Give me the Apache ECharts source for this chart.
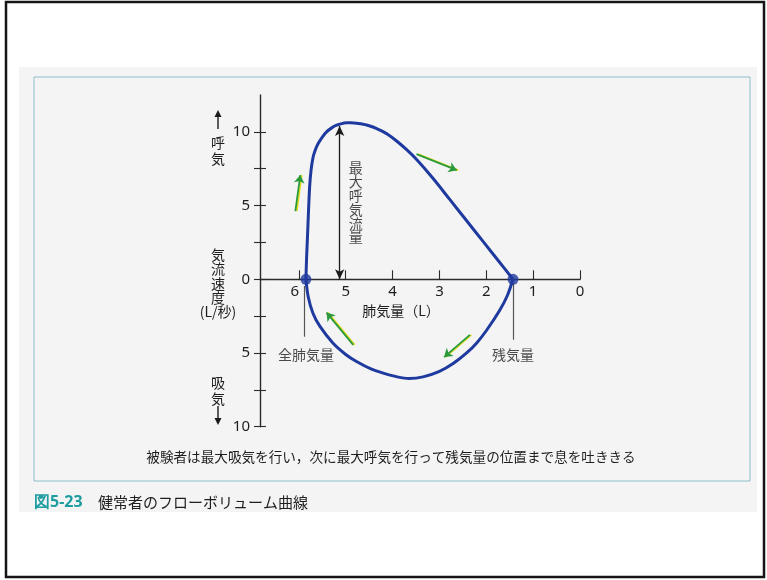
<!DOCTYPE html>
<html>
<head>
<meta charset="utf-8">
<script src="https://cdn.jsdelivr.net/npm/echarts@6/dist/echarts.min.js"></script>
<style>
  html, body { margin: 0; padding: 0; background: #ffffff; }
  #chart { width: 767px; height: 580px; }
</style>
</head>
<body>
<div id="chart"></div>
<script>
// Lung volume (L) ticks on the reversed horizontal axis
const volumeTicks = [0, 1, 2, 3, 4, 5, 6];
// Flow (L/s) tick positions; labelled ones show absolute values
const flowTicks = [-10, -7.5, -5, -2.5, 0, 2.5, 5, 7.5, 10];
const flowLabelTicks = [-10, -5, 0, 5, 10];

// Expiratory limb, total lung capacity -> residual volume
const expiratoryVolume = [5.85, 5.835, 5.815, 5.795, 5.77, 5.74, 5.695, 5.64, 5.588, 5.50, 5.409, 5.30, 5.195, 5.08, 4.98, 4.89, 4.768, 4.655, 4.555, 4.42, 4.271, 4.10, 3.914, 3.70, 3.487, 3.139, 2.776, 2.419, 2.065, 1.708, 1.43];
const expiratoryFlow   = [0, 1.5, 3.0, 4.6, 6.3, 7.4, 8.31, 8.85, 9.21, 9.65, 10.0, 10.27, 10.45, 10.56, 10.61, 10.62, 10.59, 10.53, 10.47, 10.33, 10.115, 9.82, 9.38, 8.79, 8.12, 6.85, 5.40, 3.97, 2.55, 1.12, 0];

// Inspiratory limb (negative flow), total lung capacity -> residual volume
const inspiratoryVolume = [5.85, 5.80, 5.70, 5.55, 5.27, 5.00, 4.77, 4.45, 4.20, 3.90, 3.65, 3.35, 3.00, 2.70, 2.42, 2.20, 1.99, 1.71, 1.55, 1.43];
const inspiratoryFlow   = [0, -1.2, -2.3, -3.2, -4.34, -5.1, -5.58, -6.1, -6.37, -6.62, -6.73, -6.62, -6.25, -5.7, -5.0, -4.3, -3.44, -2.08, -1.1, 0];

// Key volumes and the peak expiratory flow marker
const totalLungCapacity = 5.85;
const residualVolume = 1.43;
const peakFlowVolume = 5.13;
const peakFlowMarker = 10.4;

// Direction arrows along the loop: [fromVolume, fromFlow, toVolume, toFlow]
const flowArrows = [
  [6.075, 4.63, 5.97, 7.07],
  [3.49, 8.49, 2.63, 7.4],
  [4.84, -4.45, 5.41, -2.26],
  [2.35, -3.77, 2.90, -5.28]
];

const JP = '"Noto Sans CJK JP", "Noto Sans", sans-serif';
const NUM = '"Noto Sans", "Open Sans", sans-serif';
const BLUE = '#1f3a9f';
const INK = '#1e1e1e';

const zip = (xs, ys) => xs.map((x, i) => [x, ys[i]]);

// plot area and flow range; the volume axis sits on the zero-flow line
const gridBox = { left: 260, top: 95, width: 320, height: 331.7 };
const flowMin = -10, flowMax = 12.5;
const zeroLineOffset = -gridBox.height * (0 - flowMin) / (flowMax - flowMin);

const chart = echarts.init(document.getElementById('chart'), null, { renderer: 'canvas' });

const option = {
  animation: false,
  backgroundColor: '#ffffff',
  grid: Object.assign({ containLabel: false }, gridBox),
  xAxis: {
    type: 'value', min: 0, max: 6.83, inverse: true, position: 'bottom', offset: zeroLineOffset,
    name: '肺気量（L）', nameLocation: 'middle', nameGap: 24,
    nameTextStyle: { fontFamily: JP, fontSize: 14, color: INK, padding: [0, 38, 0, 0] },
    axisLine: { onZero: false, lineStyle: { color: '#2b2b2b', width: 1.4 } },
    axisTick: { inside: true, length: 9, customValues: volumeTicks, lineStyle: { color: '#2b2b2b', width: 1.1 } },
    axisLabel: {
      customValues: volumeTicks, margin: 5, fontFamily: NUM, fontSize: 15, color: INK,
      // the "6" sits just left of the total-lung-capacity guide line
      formatter: v => (v === 6 ? '{shift|6}' : String(v)),
      rich: { shift: { fontFamily: NUM, fontSize: 15, color: INK, padding: [0, 8, 0, 0] } }
    },
    splitLine: { show: false }
  },
  yAxis: [
    {
      type: 'value', min: flowMin, max: flowMax, interval: 2.5, position: 'left',
      axisLine: { onZero: false, lineStyle: { color: '#2b2b2b', width: 1.4 } },
      axisTick: { inside: false, length: 6, customValues: flowTicks, lineStyle: { color: '#2b2b2b', width: 1.1 } },
      axisLabel: { customValues: flowLabelTicks, margin: 10, fontFamily: NUM, fontSize: 15, color: INK,
                   formatter: v => String(Math.abs(v)) },
      splitLine: { show: false }
    },
    {
      // inner half of the crossing tick marks
      type: 'value', min: flowMin, max: flowMax, interval: 2.5, position: 'left',
      axisLine: { show: false, onZero: false },
      axisTick: { inside: true, length: 6, customValues: flowTicks, lineStyle: { color: '#2b2b2b', width: 1.1 } },
      axisLabel: { show: false },
      splitLine: { show: false }
    }
  ],
  series: [
    {
      name: '呼気', type: 'line', smooth: 0.3, showSymbol: false, silent: true, z: 4,
      data: zip(expiratoryVolume, expiratoryFlow),
      lineStyle: { color: BLUE, width: 3 }
    },
    {
      name: '吸気', type: 'line', smooth: 0.3, showSymbol: false, silent: true, z: 4,
      data: zip(inspiratoryVolume, inspiratoryFlow),
      lineStyle: { color: BLUE, width: 3 }
    },
    {
      name: '肺気量点', type: 'scatter', symbolSize: 11, silent: true, z: 6,
      itemStyle: { color: BLUE },
      data: [[totalLungCapacity, 0], [residualVolume, 0]],
      markLine: {
        silent: true, symbol: ['none', 'none'], animation: false,
        lineStyle: { color: '#555', width: 1.2, type: 'solid' },
        label: { show: false },
        data: [
          [{ coord: [totalLungCapacity + 0.04, -0.45] }, { coord: [totalLungCapacity + 0.04, -3.9] }],
          [{ coord: [residualVolume, -0.25] }, { coord: [residualVolume, -4.1] }]
        ]
      }
    },
    {
      name: '最大呼気流量', type: 'scatter', symbolSize: 0, silent: true, z: 3,
      data: [],
      markLine: {
        silent: true, symbol: ['arrow', 'arrow'], symbolSize: [7, 10], animation: false,
        lineStyle: { color: '#1a1a1a', width: 1.3, type: 'solid' },
        label: { show: false },
        data: [[{ coord: [peakFlowVolume, 0] }, { coord: [peakFlowVolume, peakFlowMarker] }]]
      }
    },
    {
      name: '方向', type: 'scatter', symbolSize: 0, silent: true, z: 3,
      data: [],
      markLine: {
        silent: true, symbol: ['none', 'arrow'], symbolSize: 8, animation: false,
        lineStyle: { color: '#2a9a3c', width: 1.8, type: 'solid',
                     shadowColor: '#e2dc1c', shadowOffsetX: 1.4, shadowOffsetY: 0, shadowBlur: 0 },
        label: { show: false },
        data: flowArrows.map(a => [{ coord: [a[0], a[1]] }, { coord: [a[2], a[3]] }])
      }
    },
    {
      name: '注記', type: 'scatter', symbolSize: 0, silent: true, z: 5,
      label: { show: true, position: 'inside', fontFamily: JP, fontSize: 14, color: INK },
      data: [
        { value: [totalLungCapacity, -5.1], label: { formatter: '全肺気量' } },
        { value: [residualVolume, -5.1], label: { formatter: '残気量' } },
        { value: [peakFlowVolume, 5.2], label: { formatter: '最\n大\n呼\n気\n流\n量', lineHeight: 13.8, offset: [16, 0] } }
      ]
    }
  ],
  graphic: [
    // scanned page area and figure box
    { type: 'rect', z: -10, shape: { x: 19, y: 67, width: 738, height: 445 }, style: { fill: '#f4f4f4' } },
    { type: 'rect', z: -9, shape: { x: 34, y: 77, width: 716, height: 404 }, style: { fill: 'none', stroke: '#8cc0ca', lineWidth: 1 } },
    // outer frame
    { type: 'rect', z: 20, shape: { x: 6, y: 2, width: 758, height: 575 }, style: { fill: 'none', stroke: '#151515', lineWidth: 2.5 } },

    // flow axis side labels
    { type: 'line', shape: { x1: 218, y1: 129, x2: 218, y2: 115 }, style: { stroke: '#1a1a1a', lineWidth: 1.4 } },
    { type: 'polygon', shape: { points: [[214.5, 117], [221.5, 117], [218, 110]] }, style: { fill: '#1a1a1a' } },
    { type: 'text', style: { x: 218, y: 135, text: '呼\n気', font: '14px ' + JP, lineHeight: 16, fill: INK, align: 'center', verticalAlign: 'top' } },
    { type: 'text', style: { x: 218, y: 247, text: '気\n流\n速\n度', font: '14px ' + JP, lineHeight: 14.5, fill: INK, align: 'center', verticalAlign: 'top' } },
    { type: 'text', style: { x: 218, y: 305, text: '(L/秒)', font: '14px ' + JP, fill: INK, align: 'center', verticalAlign: 'top' } },
    { type: 'text', style: { x: 218, y: 375, text: '吸\n気', font: '14px ' + JP, lineHeight: 16, fill: INK, align: 'center', verticalAlign: 'top' } },
    { type: 'line', shape: { x1: 218, y1: 406, x2: 218, y2: 420 }, style: { stroke: '#1a1a1a', lineWidth: 1.4 } },
    { type: 'polygon', shape: { points: [[214.5, 418], [221.5, 418], [218, 425]] }, style: { fill: '#1a1a1a' } },

    // note and figure caption
    { type: 'text', style: { x: 391, y: 457, text: '被験者は最大吸気を行い，次に最大呼気を行って残気量の位置まで息を吐ききる', font: '13.6px ' + JP, fill: INK, align: 'center', verticalAlign: 'middle' } },
    { type: 'text', style: { x: 34, y: 502, text: '図5-23', font: 'bold 16px ' + NUM, fill: '#1d9da0', verticalAlign: 'middle' } },
    { type: 'text', style: { x: 98, y: 502, text: '健常者のフローボリューム曲線', font: '15px ' + JP, fill: INK, verticalAlign: 'middle' } }
  ]
};

chart.setOption(option);
</script>
</body>
</html>
